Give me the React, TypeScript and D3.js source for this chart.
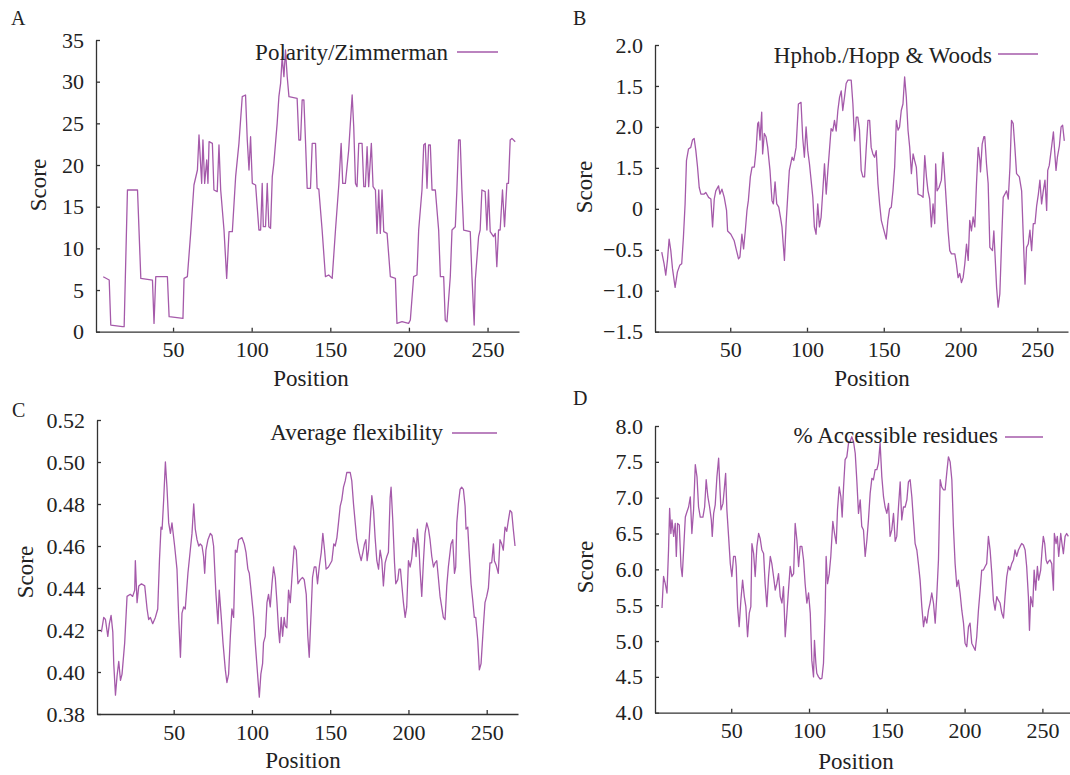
import { useEffect, useRef } from "react";
import * as d3 from "d3";

// residue position ticks, same on every panel
const positionTicks = [50, 100, 150, 200, 250];
const polarityTicks = [0, 5, 10, 15, 20, 25, 30, 35];
const hphobTicks = [-1.5, -1, -0.5, 0, 0.5, 1, 1.5, 2];
// labels as printed in the source figure
const hphobTickLabels = ["−1.5", "−1.0", "−0.5", "0", "1.5", "2.0", "1.5", "2.0"];
const flexTicks = [0.38, 0.4, 0.42, 0.44, 0.46, 0.48, 0.5, 0.52];
const accessTicks = [4, 4.5, 5, 5.5, 6, 6.5, 7, 7.5, 8];

// [position, score]
const polarity = [
  [5.6, 6.6], [9.4, 6.2], [10.4, 0.8], [17.8, 0.6], [18.9, 0.6], [21.0, 17], [27.4, 17], [29.5, 6.4],
  [36.9, 6.2], [37.9, 1.0], [39.0, 6.6], [46.4, 6.6], [47.5, 1.8], [56.3, 1.6], [57.0, 6.4], [59.1, 6.6],
  [61.2, 11.8], [63.3, 17.6], [65.5, 19.4], [66.5, 23.6], [68.2, 17.8], [69.0, 23.0], [70.1, 17.8],
  [71.4, 20.6], [72.2, 17.8], [72.9, 22.8], [75.0, 22.6], [76.0, 17.0], [78.1, 16.8], [79.2, 22.4],
  [80.3, 17.0], [82.4, 12.2], [84.1, 6.4], [85.6, 12.0], [87.7, 12.0], [89.8, 18.6], [91.9, 22.6],
  [94.0, 28.2], [96.1, 28.4], [97.2, 23.0], [98.3, 19.4], [99.3, 23.4], [100.4, 17.8], [102.5, 17.6],
  [104.6, 12.2], [105.7, 12.2], [106.7, 17.8], [107.4, 12.6], [108.8, 12.6], [109.9, 17.8], [110.9, 12.6],
  [112.0, 12.4], [113.1, 18.6], [114.1, 20.2], [116.2, 25.0], [117.3, 28.2], [118.4, 29.8], [119.4, 33.0],
  [120.5, 30.6], [121.5, 33.8], [122.6, 30.6], [123.7, 28.2], [128.9, 28.0], [130.0, 23.0], [131.1, 23.0],
  [132.1, 27.8], [133.2, 27.8], [134.2, 23.0], [135.3, 17.2], [137.4, 17.2], [138.5, 22.6], [140.6, 22.6],
  [141.6, 17.2], [142.7, 17.1], [144.8, 12.2], [146.9, 6.6], [149.0, 6.8], [151.2, 6.4], [153.3, 12.2],
  [155.4, 17.6], [156.9, 22.6], [157.9, 17.8], [159.6, 17.8], [161.7, 21.8], [163.9, 28.4], [164.9, 24.6],
  [166.0, 17.8], [167.0, 17.4], [168.1, 22.6], [170.2, 22.6], [171.3, 17.4], [172.3, 17.4], [173.4, 22.2],
  [174.4, 17.4], [176.1, 22.6], [177.2, 17.4], [178.7, 17.0], [179.7, 11.8], [180.8, 17.0], [181.8, 11.8],
  [182.9, 17.0], [184.0, 12.0], [186.1, 11.8], [188.2, 6.6], [191.4, 6.4], [192.4, 1.0], [195.6, 1.2],
  [199.8, 1.0], [200.9, 1.4], [203.0, 6.6], [205.1, 6.8], [206.2, 12.2], [208.3, 17.0], [209.4, 22.4],
  [210.4, 22.6], [211.5, 17.2], [212.5, 22.4], [213.6, 22.4], [214.7, 17.0], [216.8, 17.0], [218.9, 12.2],
  [220.0, 6.6], [222.1, 6.6], [223.1, 1.4], [224.2, 1.2], [226.3, 6.6], [227.4, 12.2], [229.5, 12.6],
  [230.5, 17.0], [231.6, 23.0], [232.6, 23.0], [233.7, 17.0], [234.8, 12.2], [239.0, 12.0], [240.1, 6.6],
  [241.5, 0.8], [242.2, 6.2], [244.3, 11.4], [245.3, 12.2], [246.4, 17.0], [248.5, 16.8], [249.6, 12.2],
  [250.6, 17.0], [251.7, 12.0], [253.8, 11.4], [254.9, 11.8], [255.9, 7.8], [257.0, 12.2], [258.0, 12.2],
  [259.5, 17.0], [260.8, 12.6], [262.3, 17.8], [263.3, 17.8], [264.4, 23.0], [265.5, 23.2], [267.6, 22.8],
];

const hphob = [
  [5.4, -0.53], [6.9, -0.67], [8.0, -0.81], [9.1, -0.63], [10.2, -0.37], [11.3, -0.51], [12.4, -0.73],
  [14.1, -0.96], [15.6, -0.77], [17.1, -0.69], [18.4, -0.67], [19.5, -0.35], [20.6, 0.06], [21.5, 0.59],
  [22.8, 0.73], [24.3, 0.75], [25.4, 0.84], [26.5, 0.86], [27.6, 0.71], [28.7, 0.51], [29.8, 0.26],
  [30.9, 0.18], [33.0, 0.18], [34.1, 0.2], [35.9, 0.14], [37.4, 0.12], [38.5, -0.22], [39.6, 0.12],
  [40.6, 0.22], [42.4, 0.28], [43.3, 0.18], [44.6, 0.24], [46.1, 0.14], [47.6, -0.02], [48.3, -0.27],
  [50.4, -0.31], [52.6, -0.39], [54.1, -0.51], [55.4, -0.61], [56.3, -0.59], [57.6, -0.31], [58.7, -0.49],
  [59.8, -0.27], [60.9, -0.02], [61.8, 0.1], [63.1, 0.39], [64.2, 0.51], [65.7, 0.51], [66.8, 0.71],
  [67.9, 1.04], [68.5, 1.06], [69.4, 0.84], [70.5, 1.18], [71.1, 0.67], [72.2, 0.92], [73.3, 0.88],
  [74.4, 0.75], [75.9, 0.47], [77.2, 0.1], [78.1, 0.06], [79.2, 0.33], [80.3, 0.06], [81.6, 0.02],
  [82.7, -0.1], [83.7, -0.22], [85.3, -0.63], [86.4, -0.18], [87.4, 0.14], [88.5, 0.47], [90.3, 0.63],
  [91.4, 0.59], [92.9, 0.75], [94.4, 1.28], [96.1, 1.3], [97.2, 0.87], [98.3, 0.63], [99.4, 1.0],
  [100.5, 0.71], [101.6, 0.55], [103.8, 0.14], [104.8, -0.22], [105.9, -0.31], [107.0, 0.06], [108.1, -0.22],
  [109.2, -0.1], [110.3, 0.22], [111.4, 0.55], [112.5, 0.18], [113.6, 0.47], [114.6, 0.71], [115.7, 0.98],
  [116.8, 0.95], [117.9, 1.08], [119.0, 0.95], [120.1, 1.2], [121.2, 1.36], [122.3, 1.44], [123.3, 1.2],
  [124.4, 1.36], [125.5, 1.53], [126.6, 1.57], [128.8, 1.57], [129.9, 1.28], [131.0, 0.83], [132.1, 1.12],
  [133.1, 1.12], [134.2, 0.96], [135.3, 0.47], [136.4, 0.39], [137.5, 0.39], [138.6, 0.75], [139.7, 1.08],
  [140.8, 1.08], [141.8, 0.75], [142.9, 0.67], [144.0, 0.63], [145.1, 0.71], [146.2, 0.31], [147.3, 0.06],
  [148.4, -0.14], [149.5, -0.22], [151.6, -0.37], [152.7, -0.14], [153.8, 0.0], [154.9, 0.02], [156.0, 0.22],
  [157.1, 0.51], [158.2, 1.08], [159.3, 0.96], [160.3, 1.0], [161.4, 1.2], [162.5, 1.28], [163.6, 1.61],
  [164.7, 1.36], [165.8, 0.96], [166.9, 0.75], [168.0, 0.43], [169.1, 0.67], [170.1, 0.59], [171.2, 0.51],
  [172.3, 0.18], [174.5, 0.16], [175.6, 0.14], [176.7, 0.65], [177.8, 0.39], [178.8, 0.22], [179.9, 0.12],
  [181.0, -0.22], [182.1, 0.06], [183.2, -0.18], [183.8, 0.55], [184.7, 0.22], [186.0, 0.26], [187.5, 0.35],
  [188.6, 0.69], [189.7, 0.39], [190.8, 0.06], [191.9, -0.27], [193.0, -0.51], [194.1, -0.55], [196.3, -0.55],
  [197.3, -0.67], [198.4, -0.84], [199.5, -0.79], [200.6, -0.9], [201.7, -0.84], [202.8, -0.67], [203.9, -0.43],
  [205.0, -0.63], [206.0, -0.14], [207.1, -0.27], [208.2, -0.1], [209.3, -0.22], [210.4, 0.31], [211.5, 0.75],
  [212.6, 0.59], [213.0, 0.45], [214.1, 0.79], [215.2, 0.88], [215.8, 0.88], [216.9, 0.55], [218.0, 0.31],
  [219.1, -0.47], [220.8, -0.51], [221.7, -0.27], [223.5, -0.96], [224.5, -1.2], [225.6, -1.04], [226.7, -0.43],
  [227.8, 0.14], [230.0, 0.22], [231.1, 0.12], [232.2, 0.51], [233.2, 1.08], [234.3, 1.04], [235.4, 0.75],
  [236.5, 0.43], [238.3, 0.39], [239.8, 0.22], [240.9, -0.35], [242.0, -0.92], [243.0, -0.47], [244.1, -0.43],
  [245.2, -0.26], [246.3, -0.51], [247.4, -0.18], [248.5, -0.18], [249.6, 0.04], [250.7, 0.18], [251.7, 0.35],
  [252.8, 0.06], [253.9, 0.22], [255.0, 0.35], [256.1, -0.02], [256.8, 0.47], [257.8, 0.53], [259.4, 0.77],
  [260.5, 0.94], [261.5, 0.65], [262.2, 0.47], [263.1, 0.63], [264.4, 0.77], [265.5, 1.0], [266.5, 1.02],
  [267.6, 0.83],
];

const flexibility = [
  [3.8, 0.419], [5.3, 0.426], [6.4, 0.425], [7.9, 0.417], [8.9, 0.423], [10.0, 0.427], [11.1, 0.419],
  [11.7, 0.404], [12.8, 0.389], [13.8, 0.398], [14.9, 0.405], [16.0, 0.396], [17.0, 0.399], [18.7, 0.414],
  [20.2, 0.436], [22.3, 0.437], [23.8, 0.436], [25.1, 0.439], [25.5, 0.453], [26.6, 0.433], [27.7, 0.441],
  [29.4, 0.442], [31.5, 0.441], [33.0, 0.43], [34.0, 0.425], [35.1, 0.426], [36.6, 0.423], [38.3, 0.426],
  [39.8, 0.43], [40.9, 0.453], [41.9, 0.469], [42.6, 0.468], [43.6, 0.482], [44.7, 0.5], [45.7, 0.488],
  [46.8, 0.471], [47.9, 0.466], [48.9, 0.471], [50.6, 0.46], [52.1, 0.449], [53.2, 0.426], [54.3, 0.407],
  [55.3, 0.428], [56.4, 0.431], [57.4, 0.43], [59.1, 0.447], [60.6, 0.458], [61.7, 0.466], [62.8, 0.48],
  [63.8, 0.468], [64.9, 0.463], [66.0, 0.46], [67.0, 0.461], [68.1, 0.46], [69.1, 0.455], [69.8, 0.447],
  [70.6, 0.458], [71.9, 0.463], [73.4, 0.466], [74.5, 0.465], [75.5, 0.46], [77.0, 0.437], [78.3, 0.423],
  [79.1, 0.439], [80.4, 0.426], [81.5, 0.414], [83.0, 0.401], [84.0, 0.395], [85.1, 0.399], [86.2, 0.417],
  [87.2, 0.43], [88.3, 0.426], [89.4, 0.458], [90.4, 0.457], [91.5, 0.463], [93.6, 0.464], [95.1, 0.461],
  [96.2, 0.457], [97.4, 0.449], [98.3, 0.447], [99.4, 0.439], [101.1, 0.426], [102.1, 0.414], [103.2, 0.403],
  [104.7, 0.388], [105.7, 0.399], [106.8, 0.404], [107.4, 0.414], [108.5, 0.417], [109.6, 0.433],
  [110.6, 0.437], [111.7, 0.431], [112.8, 0.442], [113.8, 0.45], [114.9, 0.445], [116.0, 0.433],
  [117.0, 0.42], [117.7, 0.414], [118.7, 0.426], [119.6, 0.417], [120.6, 0.426], [121.3, 0.422],
  [122.3, 0.421], [123.4, 0.439], [124.5, 0.433], [126.0, 0.45], [127.0, 0.46], [128.3, 0.458],
  [129.4, 0.442], [130.9, 0.444], [132.3, 0.445], [133.4, 0.444], [134.7, 0.437], [135.7, 0.417],
  [136.6, 0.407], [137.9, 0.43], [138.7, 0.445], [139.8, 0.45], [140.9, 0.45], [141.9, 0.442], [143.0, 0.45],
  [144.3, 0.457], [145.3, 0.466], [146.4, 0.458], [147.4, 0.449], [148.9, 0.45], [151.1, 0.453],
  [152.3, 0.461], [153.2, 0.46], [154.3, 0.464], [155.3, 0.471], [156.4, 0.479], [157.4, 0.482],
  [158.5, 0.488], [159.6, 0.491], [160.6, 0.495], [161.7, 0.495], [162.8, 0.495], [163.8, 0.491],
  [164.9, 0.48], [166.0, 0.471], [167.0, 0.463], [168.5, 0.457], [169.8, 0.453], [170.9, 0.457],
  [171.9, 0.461], [172.8, 0.463], [173.6, 0.453], [174.5, 0.458], [175.5, 0.471], [176.6, 0.484],
  [177.7, 0.477], [178.7, 0.464], [179.8, 0.453], [180.9, 0.449], [181.9, 0.458], [183.0, 0.453],
  [184.0, 0.441], [185.1, 0.452], [186.2, 0.455], [187.2, 0.457], [188.3, 0.483], [188.9, 0.488],
  [190.0, 0.472], [191.1, 0.452], [191.9, 0.442], [193.2, 0.444], [194.0, 0.449], [194.9, 0.449],
  [195.7, 0.442], [196.8, 0.433], [197.9, 0.426], [198.9, 0.431], [200.0, 0.453], [201.1, 0.45],
  [202.1, 0.454], [203.2, 0.464], [204.3, 0.461], [204.9, 0.455], [205.7, 0.468], [206.8, 0.458],
  [207.4, 0.449], [208.5, 0.436], [209.6, 0.453], [210.6, 0.466], [211.7, 0.471], [212.8, 0.468],
  [213.8, 0.463], [214.9, 0.455], [216.0, 0.45], [217.0, 0.452], [218.1, 0.453], [219.1, 0.445],
  [220.2, 0.436], [222.3, 0.426], [223.4, 0.425], [224.5, 0.441], [225.5, 0.45], [227.2, 0.461],
  [228.3, 0.463], [229.4, 0.447], [230.2, 0.45], [230.9, 0.471], [231.9, 0.48], [233.0, 0.487],
  [234.0, 0.488], [235.1, 0.487], [236.2, 0.479], [236.8, 0.468], [237.9, 0.469], [238.7, 0.458],
  [240.0, 0.442], [241.1, 0.434], [242.1, 0.426], [243.0, 0.426], [244.3, 0.415], [245.3, 0.401],
  [246.4, 0.404], [247.9, 0.422], [248.9, 0.433], [250.0, 0.436], [251.1, 0.44], [252.1, 0.452],
  [253.2, 0.452], [254.3, 0.461], [254.9, 0.453], [256.0, 0.451], [257.4, 0.447], [258.5, 0.463],
  [259.6, 0.461], [260.6, 0.458], [261.7, 0.469], [262.8, 0.467], [263.8, 0.472], [264.9, 0.477],
  [266.0, 0.476], [267.0, 0.468], [268.1, 0.46],
];

const accessible = [
  [5.5, 5.46], [6.5, 5.9], [7.6, 5.8], [8.7, 5.67], [9.7, 6.27], [10.4, 6.85], [11.2, 6.5], [11.9, 6.69],
  [13.0, 6.46], [14.0, 6.64], [14.7, 6.18], [15.5, 6.64], [16.6, 6.62], [17.7, 6.04], [18.5, 5.9],
  [19.4, 6.27], [20.5, 6.73], [21.5, 6.8], [22.6, 6.87], [23.7, 7.01], [24.7, 6.5], [25.8, 6.83],
  [26.9, 7.46], [28.0, 7.29], [29.0, 6.87], [30.1, 6.73], [31.8, 6.73], [32.9, 6.87], [33.9, 7.25],
  [35.0, 7.01], [36.1, 6.87], [37.2, 6.69], [37.8, 6.46], [38.7, 6.78], [39.7, 6.9], [40.8, 7.29],
  [41.9, 7.55], [42.5, 7.25], [43.4, 6.83], [44.7, 6.92], [45.5, 7.11], [46.4, 7.34], [47.2, 6.83],
  [48.3, 6.46], [49.4, 6.08], [50.4, 5.9], [51.5, 6.18], [52.6, 6.18], [53.2, 6.04], [54.1, 5.48],
  [55.1, 5.2], [56.2, 5.57], [57.3, 5.85], [58.4, 5.62], [59.4, 5.48], [60.5, 5.06], [61.6, 5.39],
  [62.6, 5.48], [63.3, 6.36], [64.4, 6.22], [65.4, 5.9], [66.5, 6.32], [67.6, 6.5], [68.6, 6.43],
  [69.7, 6.27], [70.8, 6.22], [71.8, 5.8], [72.9, 5.48], [74.0, 5.9], [75.1, 6.18], [76.1, 6.08],
  [77.2, 5.9], [78.3, 5.71], [79.3, 5.8], [80.4, 5.94], [81.5, 5.62], [82.6, 5.53], [83.6, 5.76],
  [84.7, 5.06], [85.8, 5.39], [86.8, 5.71], [87.9, 6.04], [89.0, 5.9], [90.1, 5.94], [91.1, 6.64],
  [92.2, 6.41], [93.3, 6.04], [94.3, 6.32], [95.4, 6.32], [96.5, 6.13], [97.5, 5.8], [98.6, 5.53],
  [99.7, 5.67], [100.8, 5.39], [101.8, 4.73], [102.9, 4.5], [103.5, 5.01], [104.4, 4.69], [105.0, 4.55],
  [106.1, 4.5], [107.2, 4.47], [108.3, 4.48], [109.3, 4.69], [110.4, 5.43], [111.0, 6.18], [111.9, 5.8],
  [113.0, 5.94], [114.0, 6.18], [115.3, 6.67], [116.4, 6.5], [117.5, 6.36], [118.3, 6.83], [119.4, 7.15],
  [120.5, 7.01], [121.3, 6.73], [122.2, 7.15], [123.2, 7.53], [124.3, 7.57], [125.4, 7.76], [126.4, 7.78],
  [127.5, 7.85], [128.6, 7.78], [129.7, 7.62], [130.7, 7.25], [131.8, 6.78], [132.9, 6.97], [133.9, 6.6],
  [135.0, 6.55], [136.1, 6.18], [137.2, 6.41], [138.2, 6.69], [139.3, 7.06], [140.4, 7.27], [141.4, 7.25],
  [142.5, 7.39], [143.6, 7.39], [144.6, 7.48], [145.7, 7.76], [146.8, 7.29], [147.9, 7.01], [148.9, 6.87],
  [150.0, 6.78], [151.1, 6.92], [152.1, 6.46], [153.2, 6.55], [154.3, 6.78], [155.4, 6.39], [156.4, 6.46],
  [157.5, 6.87], [158.6, 7.22], [159.6, 6.69], [160.7, 6.87], [161.8, 6.87], [162.9, 6.97], [163.9, 7.22],
  [165.0, 7.25], [166.1, 7.01], [167.1, 6.69], [168.2, 6.36], [169.3, 6.27], [170.3, 6.08], [171.4, 5.85],
  [172.5, 5.48], [173.6, 5.2], [174.6, 5.34], [175.7, 5.25], [176.8, 5.43], [177.8, 5.53], [178.9, 5.67],
  [180.0, 5.53], [181.1, 5.25], [182.1, 5.62], [183.2, 6.13], [184.3, 7.25], [185.3, 7.15], [186.4, 7.11],
  [187.5, 7.11], [188.6, 7.36], [189.6, 7.57], [190.7, 7.5], [191.8, 7.25], [192.8, 6.6], [193.9, 6.08],
  [195.0, 5.76], [196.0, 5.85], [197.1, 5.67], [198.2, 5.43], [199.3, 5.25], [200.3, 4.97], [201.4, 4.92],
  [202.5, 5.2], [203.5, 5.25], [204.6, 4.97], [205.7, 4.92], [206.8, 4.87], [207.8, 5.06], [208.9, 5.43],
  [210.0, 5.71], [211.0, 5.99], [212.1, 5.99], [213.2, 6.04], [214.2, 6.08], [215.3, 6.46], [216.4, 6.27],
  [217.5, 5.94], [218.5, 5.57], [219.6, 5.43], [220.7, 5.62], [221.7, 5.57], [222.8, 5.53], [223.9, 5.39],
  [225.0, 5.32], [226.0, 5.62], [227.1, 5.9], [228.2, 6.04], [229.2, 5.99], [230.3, 6.08], [231.4, 6.13],
  [232.4, 6.27], [233.5, 6.18], [234.6, 6.27], [235.7, 6.32], [236.7, 6.36], [237.8, 6.34], [238.9, 6.27],
  [239.9, 6.04], [241.0, 5.62], [241.7, 5.15], [242.5, 5.62], [243.8, 5.48], [244.7, 5.99], [245.7, 5.71],
  [246.8, 6.04], [247.6, 5.85], [248.9, 5.99], [249.8, 6.27], [250.6, 6.46], [251.5, 6.36], [252.4, 6.13],
  [253.2, 6.08], [253.9, 6.11], [254.9, 6.13], [256.0, 6.08], [257.1, 5.71], [257.7, 6.5], [258.8, 6.36],
  [259.6, 6.46], [260.5, 6.18], [261.8, 6.5], [262.6, 6.36], [263.5, 6.22], [264.6, 6.46], [265.6, 6.5],
  [266.7, 6.46],
];

const LINE = "#a55aaa";
const INK = "#222";
const FONT = "'Liberation Serif', 'Times New Roman', serif";

function drawPanel(svg, o) {
  const x = d3.scaleLinear().domain([1, 270]).range(o.xRange);
  const y = d3.scaleLinear().domain(o.yDomain).range(o.yRange);
  const g = svg.append("g");

  // axes, ticks point inward
  const xAxis = d3
    .axisBottom(x)
    .tickValues(positionTicks)
    .tickSizeInner(-4)
    .tickSizeOuter(0)
    .tickPadding(10)
    .tickFormat(d3.format("d"));
  const yAxis = d3
    .axisLeft(y)
    .tickValues(o.yTicks)
    .tickSizeInner(-4)
    .tickSizeOuter(0)
    .tickPadding(12)
    .tickFormat(o.yFormat);

  [
    g.append("g").attr("transform", `translate(0,${o.yRange[0]})`).call(xAxis),
    g.append("g").attr("transform", `translate(${o.xRange[0]},0)`).call(yAxis),
  ].forEach((a) => {
    a.attr("font-family", FONT).attr("font-size", 22);
    a.selectAll("path,line").attr("stroke", "#333").attr("stroke-width", 1.3);
    a.selectAll("text").attr("fill", INK);
  });

  g.append("path")
    .datum(o.data)
    .attr("fill", "none")
    .attr("stroke", LINE)
    .attr("stroke-width", 1.3)
    .attr("stroke-linejoin", "round")
    .attr(
      "d",
      d3
        .line()
        .x((d) => x(d[0]))
        .y((d) => y(d[1]))
    );

  // legend
  g.append("text")
    .attr("x", o.legend.x)
    .attr("y", o.legend.y)
    .attr("text-anchor", "end")
    .attr("font-family", FONT)
    .attr("font-size", 23)
    .attr("fill", INK)
    .text(o.legend.text);
  g.append("line")
    .attr("x1", o.legend.x1)
    .attr("x2", o.legend.x2)
    .attr("y1", o.legend.ly)
    .attr("y2", o.legend.ly)
    .attr("stroke", LINE)
    .attr("stroke-width", 1.3);

  // labels
  g.append("text")
    .attr("x", o.letter[0])
    .attr("y", o.letter[1])
    .attr("font-family", FONT)
    .attr("font-size", 20)
    .attr("fill", INK)
    .text(o.letter[2]);
  g.append("text")
    .attr("transform", `translate(${o.score[0]},${o.score[1]}) rotate(-90)`)
    .attr("text-anchor", "middle")
    .attr("dy", "0.35em")
    .attr("font-family", FONT)
    .attr("font-size", 23)
    .attr("fill", INK)
    .text("Score");
  g.append("text")
    .attr("x", o.position[0])
    .attr("y", o.position[1])
    .attr("text-anchor", "middle")
    .attr("font-family", FONT)
    .attr("font-size", 23)
    .attr("fill", INK)
    .text("Position");
}

export default function App() {
  const svgRef = useRef(null);

  useEffect(() => {
    const svg = d3.select(svgRef.current);
    svg.selectAll("*").remove();

    drawPanel(svg, {
      data: polarity,
      xRange: [96, 519],
      yDomain: [0, 35],
      yRange: [331.7, 40],
      yTicks: polarityTicks,
      yFormat: d3.format("d"),
      legend: { text: "Polarity/Zimmerman", x: 448, y: 60, x1: 457, x2: 498, ly: 52 },
      letter: [11, 25, "A"],
      score: [38, 185],
      position: [311, 386],
    });

    drawPanel(svg, {
      data: hphob,
      xRange: [655, 1068],
      yDomain: [-1.5, 2],
      yRange: [331.7, 45],
      yTicks: hphobTicks,
      yFormat: (d, i) => hphobTickLabels[i],
      legend: { text: "Hphob./Hopp & Woods", x: 992, y: 63, x1: 998, x2: 1038, ly: 54 },
      letter: [573, 25, "B"],
      score: [584, 187],
      position: [872, 386],
    });

    drawPanel(svg, {
      data: flexibility,
      xRange: [97, 518],
      yDomain: [0.38, 0.52],
      yRange: [714, 420],
      yTicks: flexTicks,
      yFormat: d3.format(".2f"),
      legend: { text: "Average flexibility", x: 443, y: 440, x1: 452, x2: 497, ly: 433 },
      letter: [12, 417, "C"],
      score: [25, 572],
      position: [303, 768],
    });

    drawPanel(svg, {
      data: accessible,
      xRange: [655, 1073.5],
      yDomain: [4, 8],
      yRange: [712.7, 426],
      yTicks: accessTicks,
      yFormat: d3.format(".1f"),
      legend: { text: "% Accessible residues", x: 998, y: 443, x1: 1005, x2: 1043, ly: 437 },
      letter: [573, 405, "D"],
      score: [585, 567],
      position: [856, 769],
    });
  }, []);

  return (
    <svg
      ref={svgRef}
      width={1070}
      height={775}
      style={{ position: "absolute", left: 0, top: 0, background: "#fff" }}
    />
  );
}
